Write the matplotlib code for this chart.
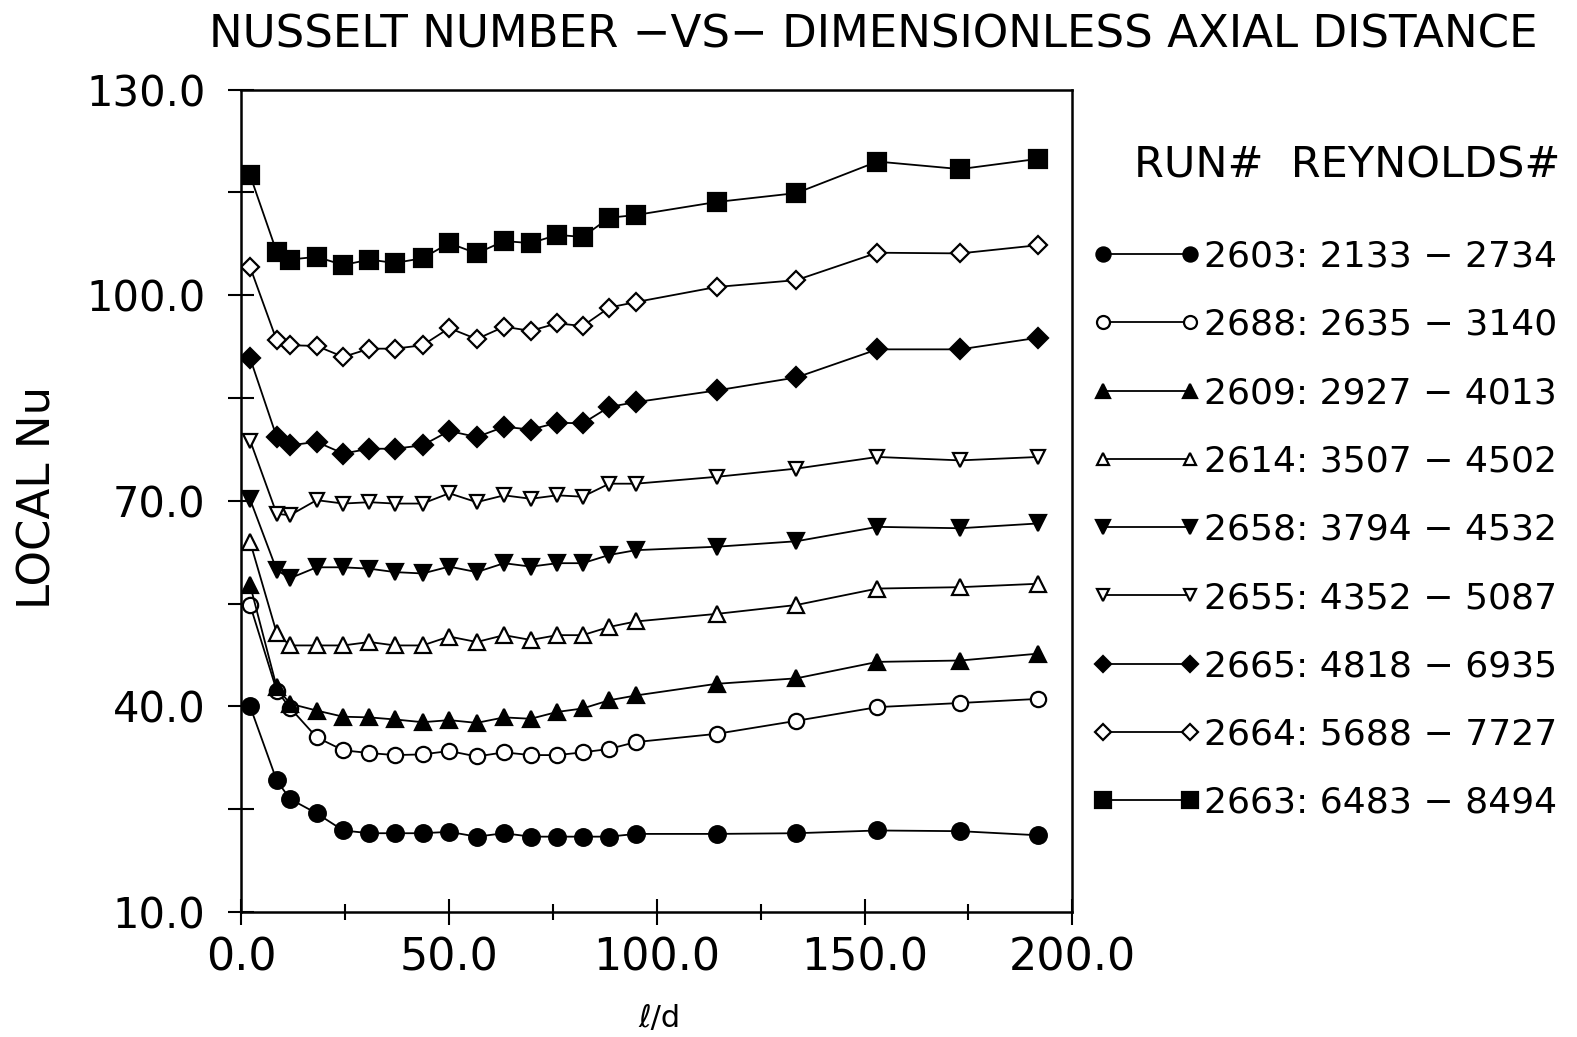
import matplotlib
matplotlib.use("Agg")
import matplotlib.pyplot as plt

# ---------------- data ----------------
l_over_d = [2.2, 8.6, 11.8, 18.2, 24.6, 30.9, 37.0, 43.7, 50.1, 56.7, 63.3,
            69.7, 76.1, 82.2, 88.6, 95.0, 114.4, 133.6, 153.1, 173.0, 191.8]

nu_2603 = [40.0, 29.2, 26.5, 24.4, 21.9, 21.5, 21.5, 21.5, 21.7, 21.0, 21.5,
           21.0, 21.0, 21.0, 21.0, 21.4, 21.4, 21.5, 21.9, 21.8, 21.2]
nu_2688 = [54.8, 42.3, 39.8, 35.5, 33.6, 33.2, 32.9, 33.0, 33.5, 32.7, 33.3,
           32.9, 32.9, 33.3, 33.8, 34.8, 36.0, 37.9, 39.9, 40.5, 41.1]
nu_2609 = [57.7, 42.8, 40.4, 39.4, 38.5, 38.4, 38.1, 37.7, 38.0, 37.6, 38.4,
           38.2, 39.2, 39.7, 40.9, 41.6, 43.3, 44.1, 46.5, 46.7, 47.7]
nu_2614 = [64.0, 50.7, 48.9, 48.9, 48.9, 49.4, 48.9, 48.9, 50.2, 49.4, 50.4,
           49.7, 50.4, 50.4, 51.6, 52.4, 53.5, 54.8, 57.2, 57.4, 57.9]
nu_2658 = [70.2, 59.9, 58.7, 60.3, 60.3, 60.1, 59.6, 59.4, 60.4, 59.6, 60.9,
           60.4, 60.9, 60.9, 62.1, 62.8, 63.3, 64.1, 66.2, 66.0, 66.7]
nu_2655 = [78.8, 68.1, 67.9, 70.1, 69.6, 69.8, 69.6, 69.6, 71.1, 69.8, 70.8,
           70.3, 70.8, 70.6, 72.5, 72.5, 73.5, 74.7, 76.4, 75.9, 76.4]
nu_2665 = [90.8, 79.3, 78.1, 78.6, 76.9, 77.6, 77.6, 78.1, 80.2, 79.3, 80.8,
           80.4, 81.4, 81.3, 83.7, 84.4, 86.1, 88.0, 92.1, 92.1, 93.8]
nu_2664 = [104.1, 93.4, 92.7, 92.6, 91.0, 92.2, 92.2, 92.7, 95.2, 93.6, 95.4,
           94.8, 95.9, 95.5, 98.2, 99.0, 101.2, 102.2, 106.2, 106.1, 107.3]
nu_2663 = [117.5, 106.3, 105.2, 105.6, 104.4, 105.2, 104.7, 105.4, 107.6, 106.1, 107.9,
           107.6, 108.8, 108.5, 111.3, 111.7, 113.6, 114.9, 119.5, 118.4, 119.9]

runs = ["2603", "2688", "2609", "2614", "2658", "2655", "2665", "2664", "2663"]
re_low = ["2133", "2635", "2927", "3507", "3794", "4352", "4818", "5688", "6483"]
re_high = ["2734", "3140", "4013", "4502", "4532", "5087", "6935", "7727", "8494"]
series = [nu_2603, nu_2688, nu_2609, nu_2614, nu_2658, nu_2655, nu_2665, nu_2664, nu_2663]

x_major = [0, 50, 100, 150, 200]
x_minor = [25, 75, 125, 175]
y_major = [10, 40, 70, 100, 130]
y_minor = [25, 55, 85, 115]

title = "NUSSELT NUMBER \u2212VS\u2212 DIMENSIONLESS AXIAL DISTANCE"

# ---------------- styles ----------------
styles = [("o", True, 12), ("o", False, 11), ("^", True, 12), ("^", False, 11),
          ("v", True, 12), ("v", False, 10), ("D", True, 10), ("D", False, 9),
          ("s", True, 13)]

plt.rcParams['font.family'] = ['DejaVu Sans']

fig = plt.figure(figsize=(15.77, 10.37), dpi=100)
ax = fig.add_axes([0.1528, 0.1205, 0.5272, 0.7931])

for y, run, lo, hi, (m, filled, ms) in zip(series, runs, re_low, re_high, styles):
    ax.plot(l_over_d, y, color="black", lw=1.3, marker=m, ms=ms,
            mfc="black" if filled else "white", mec="black", mew=1.6,
            label=f"{run}: {lo} \u2212 {hi}")

ax.set_xlim(0, 200)
ax.set_ylim(10, 130)
ax.set_xticks(x_major)
ax.set_xticklabels([f"{v:.1f}" for v in x_major])
ax.set_xticks(x_minor, minor=True)
ax.set_yticks(y_major)
ax.set_yticklabels([f"{v:.1f}" for v in y_major])
ax.set_yticks(y_minor, minor=True)

ax.tick_params(axis="both", which="both", direction="inout", width=1.5,
               top=False, right=False, color="black")
ax.tick_params(axis="x", which="major", length=19, pad=8, labelsize=32)
ax.tick_params(axis="x", which="minor", length=11)
ax.tick_params(axis="y", which="both", length=19, pad=16, labelsize=30)
for sp in ax.spines.values():
    sp.set_linewidth(1.8)
    sp.set_color("black")

fig.text(0.5535, 0.966, title, fontsize=32.5, ha="center", va="center")
fig.text(0.024, 0.52, "LOCAL Nu", fontsize=32.5, rotation=90, ha="center", va="center")
fig.text(0.418, 0.018, "\u2113/d", fontsize=22, ha="center", va="center")
fig.text(0.7194, 0.840, "RUN#  REYNOLDS#", fontsize=31, ha="left", va="center")

ax.legend(loc="upper left", bbox_to_anchor=(0.6925, 0.7690),
          bbox_transform=fig.transFigure, frameon=False, fontsize=26,
          numpoints=2, handlelength=3.0, handletextpad=0.1, labelspacing=0.95,
          borderpad=0, borderaxespad=0, markerscale=0.85)

fig.savefig("out.png", dpi=100)
